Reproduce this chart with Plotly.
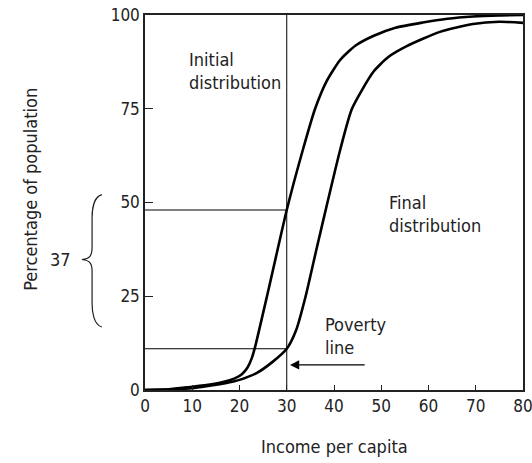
import plotly.graph_objects as go

FONT = "Liberation Sans Narrow, DejaVu Sans Condensed, Arial Narrow, sans-serif"

# cumulative distributions
initial_x = [0, 5, 9.5, 13, 16.5, 19, 20.5, 21.7, 22.6, 23.3, 26, 30, 33.4, 36, 38.5, 41.3, 44.5, 48.3, 53, 58.8, 64, 69.4, 75, 80]
initial_y = [0, 0.2, 0.8, 1.3, 2.1, 3.1, 4.2, 6.0, 8.5, 11.5, 26, 48, 64, 75, 82.5, 88, 91.8, 94.4, 96.6, 98.0, 99.0, 99.6, 99.9, 100]
final_x = [0, 5, 10, 13, 17, 20, 23.6, 27, 30, 32, 34, 36.3, 38.8, 41.3, 43.8, 48.3, 51.5, 55.4, 62.4, 69.4, 75, 80]
final_y = [0, 0.1, 0.5, 1.0, 1.8, 2.7, 4.5, 7.5, 11, 16, 25, 37.6, 51, 64, 75, 84.8, 88.8, 91.7, 95.5, 97.6, 98.2, 97.9]

poverty_line = 30
share_initial = 48
share_final = 11
gap_label = "37"

x_ticks = [0, 10, 20, 30, 40, 50, 60, 70, 80]
y_ticks = [0, 25, 50, 75, 100]

fig = go.Figure()

# reference lines at the poverty line
fig.add_trace(go.Scatter(x=[poverty_line, poverty_line], y=[0, 100], mode="lines",
                         line=dict(color="black", width=1), hoverinfo="skip"))
for s in (share_initial, share_final):
    fig.add_trace(go.Scatter(x=[0, poverty_line], y=[s, s], mode="lines",
                             line=dict(color="black", width=1), hoverinfo="skip"))

fig.add_trace(go.Scatter(x=initial_x, y=initial_y, mode="lines", name="Initial distribution",
                         line=dict(color="black", width=2.6, shape="spline", smoothing=0.6)))
fig.add_trace(go.Scatter(x=final_x, y=final_y, mode="lines", name="Final distribution",
                         line=dict(color="black", width=2.6, shape="spline", smoothing=0.6)))

txt = dict(family=FONT, size=18, color="#222")
fig.add_annotation(x=8.9, y=85, text="Initial<br>distribution", showarrow=False,
                   xanchor="left", align="left", font=txt)
fig.add_annotation(x=51.2, y=47, text="Final<br>distribution", showarrow=False,
                   xanchor="left", align="left", font=txt)
fig.add_annotation(x=37.7, y=14.4, text="Poverty<br>line", showarrow=False,
                   xanchor="left", align="left", font=txt)
# arrow pointing at the poverty line
fig.add_annotation(x=30.7, y=6.7, ax=46.8, ay=6.7, axref="x", ayref="y", text="",
                   showarrow=True, arrowhead=2, arrowsize=1.3, arrowwidth=1.4, arrowcolor="black")

# brace with the gap between the two shares
fig.add_shape(type="path", xref="paper", yref="paper",
              path="M -0.114,0.521 C -0.136,0.515 -0.14,0.48 -0.14,0.46 "
                   "L -0.14,0.38 C -0.14,0.36 -0.145,0.35 -0.167,0.348 "
                   "C -0.145,0.346 -0.14,0.336 -0.14,0.316 "
                   "L -0.14,0.23 C -0.14,0.21 -0.136,0.174 -0.114,0.168",
              line=dict(color="#222", width=1.2))
fig.add_annotation(xref="paper", yref="paper", x=-0.19, y=0.348, text=gap_label,
                   showarrow=False, xanchor="right", font=txt)

# axis titles
fig.add_annotation(xref="paper", yref="paper", x=0.5, y=-0.152, text="Income per capita",
                   showarrow=False, yanchor="middle", font=txt)
fig.add_annotation(xref="paper", yref="paper", x=-0.336, y=0.535, text="Percentage of population",
                   showarrow=False, textangle=-90, font=txt)

axis_common = dict(showgrid=False, zeroline=False, showline=True, linecolor="#222",
                   linewidth=1.5, mirror=True, ticks="inside", tickcolor="#222",
                   automargin=False, ticklabeloverflow="allow",
                   tickfont=dict(family=FONT, size=17, color="#222"))
fig.update_xaxes(range=[0, 80], tickvals=x_ticks, ticklen=5, **axis_common)
fig.update_yaxes(range=[0, 100], tickvals=y_ticks, ticklen=8, **axis_common)

fig.update_layout(width=532, height=463, showlegend=False,
                  margin=dict(l=145, r=9, t=15, b=73, autoexpand=False),
                  plot_bgcolor="white", paper_bgcolor="white")

# drop the default body margin so the figure fills the window exactly
fig.write_html("out.html", config={"displayModeBar": False},
               post_script="document.body.style.margin='0';document.body.style.overflow='hidden';")
